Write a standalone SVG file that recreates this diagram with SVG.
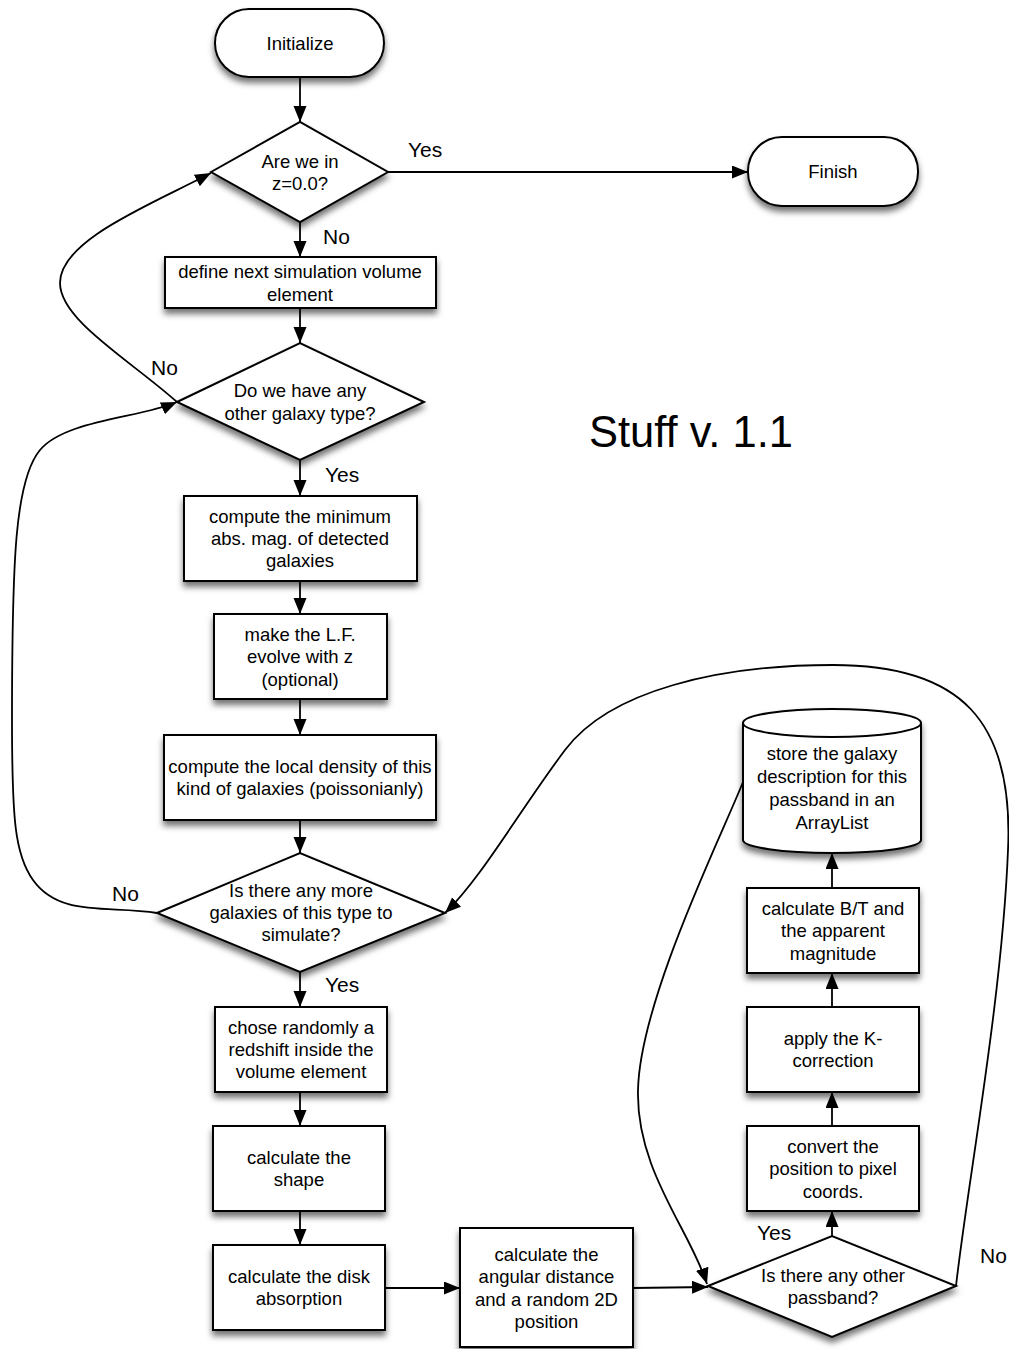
<svg xmlns="http://www.w3.org/2000/svg" width="1009" height="1349" viewBox="0 0 1009 1349">
  <defs>
    <filter id="shadow" x="-20%" y="-20%" width="140%" height="150%">
      <feDropShadow dx="0" dy="5" stdDeviation="3" flood-color="#000" flood-opacity="0.55"/>
    </filter>
    <marker id="arrow" markerUnits="userSpaceOnUse" markerWidth="17" markerHeight="14" refX="16" refY="6.5" orient="auto">
      <path d="M0,0 L16,6.5 L0,13 Z" fill="#000"/>
    </marker>
  </defs>
  <style>
    .shape { fill: #fff; stroke: #000; stroke-width: 2; filter: url(#shadow); }
    .t { font-family: "Liberation Sans", Arial, Helvetica, sans-serif; font-size: 18.5px; fill: #000; text-anchor: middle; }
    .lbl { font-family: "Liberation Sans", Arial, Helvetica, sans-serif; font-size: 21px; fill: #000; }
    .title { font-family: "Liberation Sans", Arial, Helvetica, sans-serif; font-size: 43.5px; fill: #000; }
    .edge { fill: none; stroke: #000; stroke-width: 1.8; marker-end: url(#arrow); }
  </style>
  <rect width="1009" height="1349" fill="#fff"/>

  <!-- connectors -->
  <g id="connectors">
    <line class="edge" x1="300" y1="77" x2="300" y2="122"/>
    <line class="edge" x1="388" y1="172" x2="748" y2="172"/>
    <line class="edge" x1="300" y1="222" x2="300" y2="257"/>
    <line class="edge" x1="300" y1="308" x2="300" y2="343"/>
    <line class="edge" x1="300" y1="460" x2="300" y2="496"/>
    <line class="edge" x1="300" y1="581" x2="300" y2="614"/>
    <line class="edge" x1="300" y1="699" x2="300" y2="735"/>
    <line class="edge" x1="300" y1="820" x2="300" y2="853"/>
    <line class="edge" x1="300" y1="972" x2="300" y2="1007"/>
    <line class="edge" x1="300" y1="1092" x2="300" y2="1126"/>
    <line class="edge" x1="300" y1="1211" x2="300" y2="1245"/>
    <line class="edge" x1="385" y1="1288" x2="460" y2="1288"/>
    <line class="edge" x1="633" y1="1288" x2="708" y2="1287"/>
    <line class="edge" x1="832" y1="1236" x2="832" y2="1211"/>
    <line class="edge" x1="832" y1="1126" x2="832" y2="1092"/>
    <line class="edge" x1="832" y1="1007" x2="832" y2="973"/>
    <line class="edge" x1="832" y1="888" x2="832" y2="853"/>
    <!-- no more galaxy types: back to the redshift test -->
    <path class="edge" d="M177,402 C130,360 60,320 60,283 C60,240 150,205 211,173"/>
    <!-- no more galaxies of this type: back to the type test -->
    <path class="edge" d="M157,913 C110,905 60,918 33,880 C15,855 12,820 12,720 C12,560 15,480 40,450 C65,420 140,418 177,402"/>
    <!-- no other passband: next galaxy -->
    <path class="edge" d="M956,1286 C968,1180 1002,1000 1008,850 C1014,720 960,665 833,665 C720,665 610,690 565,750 C520,810 480,880 445,913"/>
    <!-- stored: next passband -->
    <path class="edge" d="M743,782 C722,835 640,1000 638,1090 C636,1170 690,1230 707,1284"/>
  </g>

  <!-- edge labels -->
  <g id="labels">
    <text class="lbl" x="408" y="157">Yes</text>
    <text class="lbl" x="323" y="244">No</text>
    <text class="lbl" x="151" y="375">No</text>
    <text class="lbl" x="325" y="482">Yes</text>
    <text class="lbl" x="112" y="901">No</text>
    <text class="lbl" x="325" y="992">Yes</text>
    <text class="lbl" x="757" y="1240">Yes</text>
    <text class="lbl" x="980" y="1263">No</text>
  </g>

  <g id="initialize">
    <rect class="shape" x="215" y="9" width="169" height="68" rx="34" ry="34"/>
    <text class="t" x="300" y="50">Initialize</text>
  </g>

  <g id="finish">
    <rect class="shape" x="748" y="137" width="170" height="69" rx="34" ry="34"/>
    <text class="t" x="833" y="178">Finish</text>
  </g>

  <g id="test-z">
    <polygon class="shape" points="211,172 300,122 388,172 300,222"/>
    <text class="t" x="300" y="167.5">Are we in</text>
    <text class="t" x="300" y="190">z=0.0?</text>
  </g>

  <g id="define-volume">
    <rect class="shape" x="165" y="257" width="271" height="51"/>
    <text class="t" x="300" y="278">define next simulation volume</text>
    <text class="t" x="300" y="300.5">element</text>
  </g>

  <g id="test-type">
    <polygon class="shape" points="177,402 300,343 424,402 300,460"/>
    <text class="t" x="300" y="397">Do we have any</text>
    <text class="t" x="300" y="419.5">other galaxy type?</text>
  </g>

  <g id="min-mag">
    <rect class="shape" x="184" y="496" width="233" height="85"/>
    <text class="t" x="300" y="522.7">compute the minimum</text>
    <text class="t" x="300" y="545">abs. mag. of detected</text>
    <text class="t" x="300" y="567.3">galaxies</text>
  </g>

  <g id="lf-evolve">
    <rect class="shape" x="214" y="614" width="173" height="85"/>
    <text class="t" x="300" y="641">make the L.F.</text>
    <text class="t" x="300" y="663.3">evolve with z</text>
    <text class="t" x="300" y="685.6">(optional)</text>
  </g>

  <g id="local-density">
    <rect class="shape" x="164" y="735" width="272" height="85"/>
    <text class="t" x="300" y="773">compute the local density of this</text>
    <text class="t" x="300" y="795.3">kind of galaxies (poissonianly)</text>
  </g>

  <g id="test-more">
    <polygon class="shape" points="157,913 300,853 445,913 300,972"/>
    <text class="t" x="301" y="896.5">Is there any more</text>
    <text class="t" x="301" y="918.8">galaxies of this type to</text>
    <text class="t" x="301" y="941.1">simulate?</text>
  </g>

  <g id="redshift">
    <rect class="shape" x="215" y="1007" width="172" height="85"/>
    <text class="t" x="301" y="1033.7">chose randomly a</text>
    <text class="t" x="301" y="1056">redshift inside the</text>
    <text class="t" x="301" y="1078.3">volume element</text>
  </g>

  <g id="shape">
    <rect class="shape" x="213" y="1126" width="172" height="85"/>
    <text class="t" x="299" y="1164">calculate the</text>
    <text class="t" x="299" y="1186.3">shape</text>
  </g>

  <g id="absorption">
    <rect class="shape" x="213" y="1245" width="172" height="85"/>
    <text class="t" x="299" y="1283">calculate the disk</text>
    <text class="t" x="299" y="1305.3">absorption</text>
  </g>

  <g id="position">
    <rect class="shape" x="460" y="1228" width="173" height="119"/>
    <text class="t" x="546.5" y="1261">calculate the</text>
    <text class="t" x="546.5" y="1283.3">angular distance</text>
    <text class="t" x="546.5" y="1305.6">and a random 2D</text>
    <text class="t" x="546.5" y="1327.9">position</text>
  </g>

  <g id="test-passband">
    <polygon class="shape" points="708,1286 832,1236 956,1286 832,1337"/>
    <text class="t" x="833" y="1281.5">Is there any other</text>
    <text class="t" x="833" y="1304">passband?</text>
  </g>

  <g id="pixel-coords">
    <rect class="shape" x="747" y="1126" width="172" height="85"/>
    <text class="t" x="833" y="1153">convert the</text>
    <text class="t" x="833" y="1175.3">position to pixel</text>
    <text class="t" x="833" y="1197.6">coords.</text>
  </g>

  <g id="k-correction">
    <rect class="shape" x="747" y="1007" width="172" height="85"/>
    <text class="t" x="833" y="1045">apply the K-</text>
    <text class="t" x="833" y="1067.3">correction</text>
  </g>

  <g id="magnitude">
    <rect class="shape" x="747" y="888" width="172" height="85"/>
    <text class="t" x="833" y="915">calculate B/T and</text>
    <text class="t" x="833" y="937.3">the apparent</text>
    <text class="t" x="833" y="959.6">magnitude</text>
  </g>

  <g id="store">
    <path class="shape" d="M743,723 A89,14 0 0,1 921,723 L921,840 A89,13 0 0,1 743,840 Z"/>
    <path d="M743,723 A89,14 0 0,0 921,723" fill="none" stroke="#000" stroke-width="2"/>
    <text class="t" x="832" y="760">store the galaxy</text>
    <text class="t" x="832" y="783">description for this</text>
    <text class="t" x="832" y="806">passband in an</text>
    <text class="t" x="832" y="829">ArrayList</text>
  </g>

  <g id="title">
    <text class="title" x="589" y="447">Stuff v. 1.1</text>
  </g>
</svg>
